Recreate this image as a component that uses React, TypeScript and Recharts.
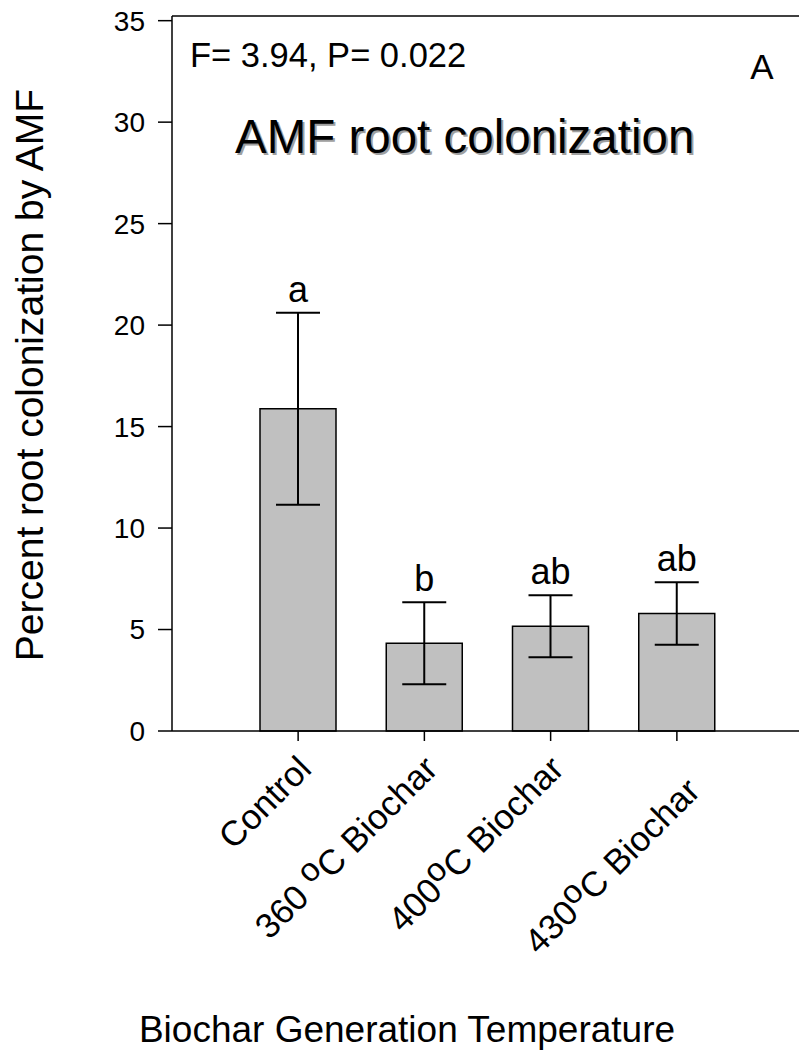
import { ComposedChart, Bar, Line, ErrorBar, XAxis, YAxis, LabelList, ReferenceLine } from "recharts";

const categories = ["Control", "360 °C Biochar", "400°C Biochar", "430°C Biochar"];
const colonization = [15.88, 4.32, 5.16, 5.79];
const stdErr = [4.73, 2.02, 1.53, 1.54];
const letters = ["a", "b", "ab", "ab"];
const yTicks = [0, 5, 10, 15, 20, 25, 30, 35];
const yMax = 35.23;

const data = categories.map((name, i) => ({
  name,
  value: colonization[i],
  err: stdErr[i],
  top: colonization[i] + stdErr[i],
  letter: letters[i],
}));

const FONT = '"Liberation Sans", Arial, Helvetica, sans-serif';

// category labels, rotated, with the degree drawn as a raised "o"
function CategoryTick({ x, y, payload, index }: any) {
  const [before, after] = String(payload.value).split("°");
  const shift = index === 3 ? [10, 22] : [0, 0];
  return (
    <g transform={`translate(${x + 15 + shift[0]},${y + 28 + shift[1]})`}>
      <text transform="rotate(-45)" textAnchor="end" fontSize={35} fontFamily={FONT} fill="#000">
        {before}
        {after !== undefined && (
          <>
            <tspan fontSize={33} dy={-11}>o</tspan>
            <tspan dy={11}>{after}</tspan>
          </>
        )}
      </text>
    </g>
  );
}

export default function App() {
  return (
    <div style={{ position: "absolute", left: 0, top: 0, width: 799, height: 1055, background: "#fff" }}>
      <ComposedChart width={799} height={1055} data={data} margin={{ top: 16, right: 0, bottom: 0, left: 0 }}>
        <XAxis
          dataKey="name"
          height={324}
          interval={0}
          tickSize={10}
          padding={{ left: 63, right: 59 }}
          axisLine={{ stroke: "#000", strokeWidth: 1.5 }}
          tickLine={{ stroke: "#000", strokeWidth: 1.5 }}
          tick={<CategoryTick />}
        />
        <YAxis
          type="number"
          domain={[0, yMax]}
          ticks={yTicks}
          width={172}
          tickSize={14}
          tickMargin={13}
          axisLine={{ stroke: "#000", strokeWidth: 1.5 }}
          tickLine={{ stroke: "#000", strokeWidth: 1.5 }}
          tick={{ fontSize: 28, fill: "#000", fontFamily: FONT }}
        />
        <ReferenceLine y={yMax} stroke="#000" strokeWidth={1.5} />
        <Bar dataKey="value" barSize={76} fill="#c0c0c0" stroke="#000" strokeWidth={1.5} isAnimationActive={false}>
          <ErrorBar dataKey="err" width={22} stroke="#000" strokeWidth={2} />
        </Bar>
        <Line dataKey="top" stroke="none" dot={false} activeDot={false} isAnimationActive={false}>
          <LabelList dataKey="letter" position="top" offset={11} fontSize={36} fill="#000" fontFamily={FONT} />
        </Line>
      </ComposedChart>
      <svg width={799} height={1055} style={{ position: "absolute", left: 0, top: 0, pointerEvents: "none" }}>
        <g fontFamily={FONT} fill="#000">
          <text x={190} y={67} fontSize={34.5}>F= 3.94, P= 0.022</text>
          <text x={762} y={79} fontSize={35} textAnchor="middle">A</text>
          <text x={237} y={155} fontSize={47.5} fill="#a0a0a0">AMF root colonization</text>
          <text x={235} y={153} fontSize={47.5}>AMF root colonization</text>
          <text x={43} y={375} fontSize={39} textAnchor="middle" transform="rotate(-90, 43, 375)">
            Percent root colonization by AMF
          </text>
          <text x={407} y={1042} fontSize={37} textAnchor="middle">Biochar Generation Temperature</text>
        </g>
      </svg>
    </div>
  );
}
